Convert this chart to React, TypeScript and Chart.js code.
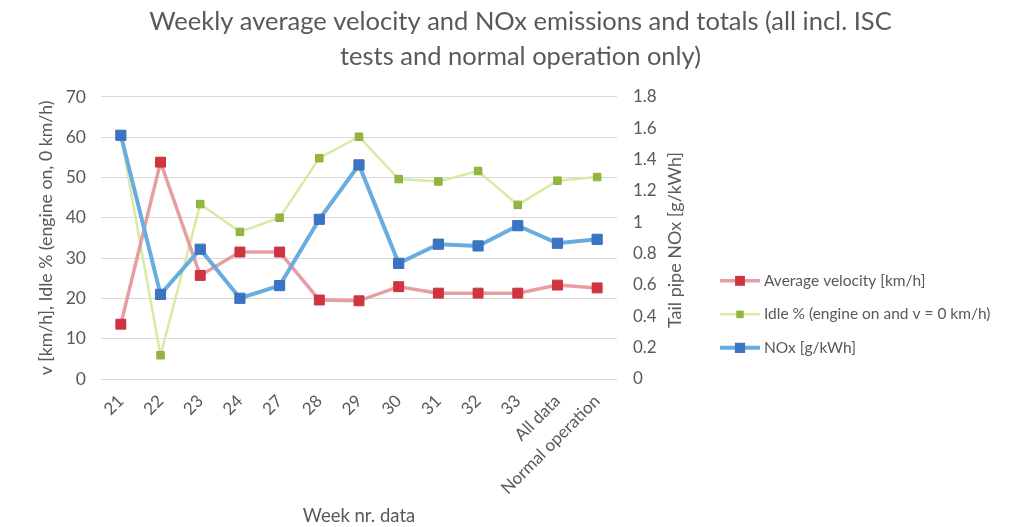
import React, { useEffect, useRef } from 'react';
import { Chart, registerables } from 'chart.js';

Chart.register(...registerables);

const weeks = ['21', '22', '23', '24', '27', '28', '29', '30', '31', '32', '33', 'All data', 'Normal operation'];
const avgVelocity = [13.6, 53.8, 25.7, 31.5, 31.5, 19.6, 19.4, 22.9, 21.3, 21.3, 21.3, 23.3, 22.6];
const idlePercent = [60.3, 5.9, 43.4, 36.5, 40.0, 54.8, 60.1, 49.6, 49.0, 51.6, 43.2, 49.2, 50.1];
const noxValues = [1.555, 0.54, 0.828, 0.515, 0.596, 1.019, 1.366, 0.738, 0.86, 0.849, 0.978, 0.866, 0.891];

const seriesLabels = ['Average velocity [km/h]', 'Idle % (engine on and v = 0 km/h)', 'NOx [g/kWh]'];
const titleLines = ['Weekly average velocity and NOx emissions and totals (all incl. ISC', 'tests and normal operation only)'];
const leftAxisTitle = 'v [km/h], Idle % (engine on, 0 km/h)';
const rightAxisTitle = 'Tail pipe NOx [g/kWh]';
const xAxisTitle = 'Week nr. data';

const TEXT = '#595959';
const FONT = 'Lato, "Open Sans", sans-serif';

const overlayPlugin = {
  id: 'overlay',
  afterDraw(chart: any) {
    const { ctx, chartArea } = chart;
    ctx.save();
    ctx.fillStyle = TEXT;
    ctx.font = `18px ${FONT}`;
    ctx.textAlign = 'center';
    ctx.textBaseline = 'middle';
    ctx.translate(chartArea.right + 58, (chartArea.top + chartArea.bottom) / 2 + 2);
    ctx.rotate(-Math.PI / 2);
    ctx.fillText(rightAxisTitle, 0, 0);
    ctx.restore();

    const x0 = chartArea.right + 103;
    chart.data.datasets.forEach((ds: any, i: number) => {
      const y = chartArea.top + 184 + i * 33.5;
      ctx.save();
      ctx.strokeStyle = ds.borderColor;
      ctx.lineWidth = ds.borderWidth;
      ctx.beginPath();
      ctx.moveTo(x0, y);
      ctx.lineTo(x0 + 40, y);
      ctx.stroke();
      const side = ds.pointRadius * Math.SQRT2;
      ctx.fillStyle = ds.pointBackgroundColor;
      ctx.fillRect(x0 + 20 - side / 2, y - side / 2, side, side);
      ctx.fillStyle = TEXT;
      ctx.font = `15.5px ${FONT}`;
      ctx.textAlign = 'left';
      ctx.textBaseline = 'middle';
      ctx.fillText(ds.label, x0 + 44, y);
      ctx.restore();
    });
  },
};

export default function App() {
  const ref = useRef<HTMLCanvasElement>(null);
  useEffect(() => {
    document.body.style.margin = '0';
    const chart = new Chart(ref.current as HTMLCanvasElement, {
      type: 'line',
      data: {
        labels: weeks,
        datasets: [
          {
            label: seriesLabels[0],
            data: avgVelocity,
            yAxisID: 'y',
            borderColor: 'rgba(228,146,152,0.9)',
            borderWidth: 3.5,
            pointStyle: 'rect',
            pointRadius: 7,
            pointBackgroundColor: '#d0353f',
            pointBorderColor: '#c8323c',
            pointBorderWidth: 1,
            order: 2,
          },
          {
            label: seriesLabels[1],
            data: idlePercent,
            yAxisID: 'y',
            borderColor: 'rgba(212,234,158,0.95)',
            borderWidth: 2.5,
            pointStyle: 'rect',
            pointRadius: 5.3,
            pointBackgroundColor: '#93b73e',
            pointBorderColor: '#8cb03a',
            pointBorderWidth: 1,
            order: 3,
          },
          {
            label: seriesLabels[2],
            data: noxValues,
            yAxisID: 'y1',
            borderColor: 'rgba(104,172,224,1)',
            borderWidth: 4,
            pointStyle: 'rect',
            pointRadius: 7.2,
            pointBackgroundColor: '#3b74c2',
            pointBorderColor: '#3a70bd',
            pointBorderWidth: 1,
            order: 1,
          },
        ],
      },
      options: {
        animation: false,
        responsive: false,
        layout: { padding: { left: 20, right: 0, top: 0, bottom: 0 } },
        plugins: {
          legend: { display: false },
          tooltip: { enabled: false },
          title: {
            display: true,
            text: titleLines,
            color: TEXT,
            font: { family: FONT, size: 25.5, weight: 'normal', lineHeight: 1.37 },
            padding: { top: 4.5, bottom: 22.5 },
          },
        },
        scales: {
          x: {
            offset: true,
            grid: { display: false },
            border: { display: false },
            ticks: {
              color: TEXT,
              font: { family: FONT, size: 17 },
              maxRotation: 45,
              minRotation: 45,
              autoSkip: false,
              padding: 4,
            },
            title: {
              display: true,
              text: xAxisTitle,
              color: TEXT,
              font: { family: FONT, size: 18.5 },
              padding: { top: 0, bottom: 0 },
            },
            afterFit(scale: any) {
              scale.height = 148;
            },
          },
          y: {
            position: 'left',
            min: 0,
            max: 70,
            ticks: { stepSize: 10, color: TEXT, font: { family: FONT, size: 17.5 }, padding: 15 },
            grid: { color: '#d9d9d9', lineWidth: 1, drawTicks: false },
            border: { display: false },
            title: {
              display: true,
              text: leftAxisTitle,
              color: TEXT,
              font: { family: FONT, size: 17.7 },
              padding: { top: 16, bottom: 0 },
            },
            afterFit(scale: any) {
              scale.width = 81;
            },
          },
          y1: {
            position: 'right',
            min: 0,
            max: 1.8,
            ticks: {
              stepSize: 0.2,
              color: TEXT,
              font: { family: FONT, size: 17 },
              padding: 16,
              callback: (v: any) => String(Math.round(Number(v) * 10) / 10),
            },
            grid: { display: false, drawTicks: false },
            border: { display: false },
            afterFit(scale: any) {
              scale.width = 404;
            },
          },
        },
      },
      plugins: [overlayPlugin],
    });
    return () => chart.destroy();
  }, []);
  return <canvas ref={ref} width={1021} height={527} style={{ display: 'block' }} />;
}
